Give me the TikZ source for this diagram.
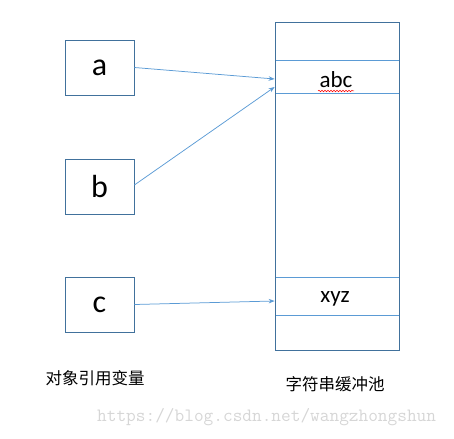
\documentclass[tikz,border=0pt]{standalone}
\usepackage{fontspec}
\setmainfont{Carlito}
\newfontfamily\cjk{Noto Sans CJK SC}
\usetikzlibrary{arrows.meta,decorations.pathmorphing}
\definecolor{boxline}{HTML}{41719C}
\definecolor{arrline}{HTML}{5B9BD5}
\definecolor{wmgray}{HTML}{D6D6D6}
\begin{document}
\begin{tikzpicture}[x=1pt,y=-1pt,
  varbox/.style={draw=boxline,line width=0.8pt,minimum width=69pt,minimum height=55pt,inner sep=0pt,font=\fontsize{32}{34}\selectfont},
  rowbox/.style={draw=arrline,line width=0.75pt,minimum width=124pt,inner sep=0pt},
  rowtext/.style={anchor=base,inner sep=0pt,font=\fontsize{23}{25}\selectfont},
  ptr/.style={draw=arrline,line width=0.75pt,-{Stealth[length=6pt,width=4.5pt]}},
  caption/.style={font=\cjk\fontsize{16.5}{18}\selectfont,inner sep=0pt}]
\useasboundingbox (0,0) rectangle (454,438);
% variable boxes
\node[varbox] (a) at (99.5,67.5) {a};
\node[varbox] (b) at (99.5,186.5) {b};
\node[varbox] (c) at (99.5,304.5) {c};
% string pool
\node[rowbox,minimum height=33pt] (abc) at (337,76.5) {};
\node[rowbox,minimum height=38pt] (xyz) at (337,296) {};
\node[draw=boxline,line width=0.8pt,minimum width=124pt,minimum height=328pt,inner sep=0pt] (pool) at (337,186) {};
\node[rowtext] (abct) at (336,88) {abc};
\node[rowtext] (xyzt) at (335,302) {xyz};
% spell-check underline
\draw[red,line width=0.5pt,decorate,decoration={snake,amplitude=0.8pt,segment length=3pt}] (318,91) -- (354,91);
% pointer end points
\coordinate (pa) at ([yshift=-2.5pt]abc.west);
\coordinate (pb) at ([yshift=-10.5pt]abc.west);
\coordinate (pc) at ([yshift=-5pt]xyz.west);
\draw[ptr] (a.east) -- (pa);
\draw[ptr] ([yshift=1.5pt]b.east) -- (pb);
\draw[ptr] (c.east) -- (pc);
% captions
\node[caption] (lv) at (95,378) {对象引用变量};
\node[caption] (lp) at (335,384) {字符串缓冲池};
% watermark
\node[font=\ttfamily\fontsize{18.8}{20}\selectfont,text=wmgray,anchor=west,inner sep=0pt] (wmk) at (97,417) {https://blog.csdn.net/wangzhongshun};
\end{tikzpicture}
\end{document}
